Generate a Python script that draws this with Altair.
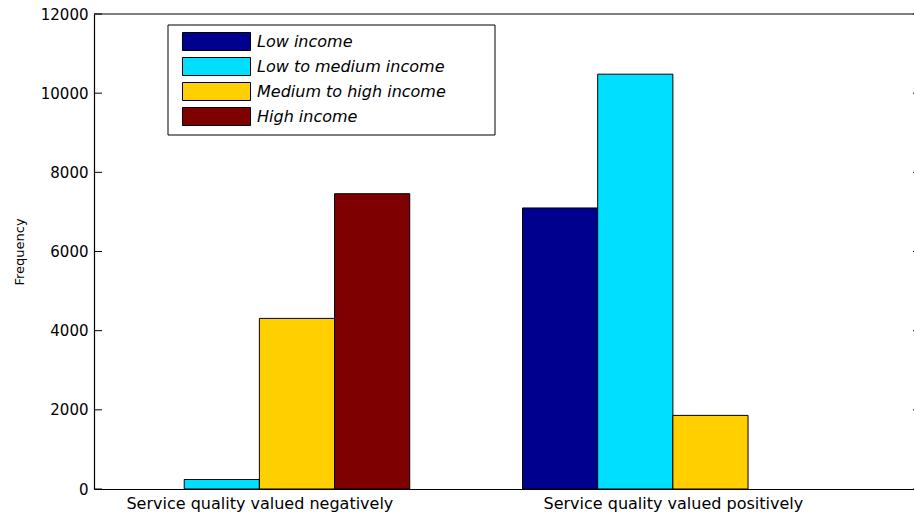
import json
import altair as alt
import pandas as pd

categories = ["Service quality valued negatively", "Service quality valued positively"]
series = ["Low income", "Low to medium income", "Medium to high income", "High income"]
low_income = [0, 7100]
low_to_medium_income = [240, 10480]
medium_to_high_income = [4310, 1860]
high_income = [7460, 0]
colors = ["#00008F", "#00DFFF", "#FFCF00", "#7F0000"]
y_ticks = [0, 2000, 4000, 6000, 8000, 10000, 12000]

values_by_series = [low_income, low_to_medium_income, medium_to_high_income, high_income]
rows = []
for s_idx, (name, vals) in enumerate(zip(series, values_by_series)):
    for g_idx, v in enumerate(vals):
        rows.append({"group": g_idx + 1, "sidx": s_idx, "series": name, "value": v})
df = pd.DataFrame(rows)

W, H = 820, 475
group_w = 4 / 5.5
bar_w = group_w / 4
x_scale = alt.Scale(domain=[0.6, 2.5832], nice=False, zero=False)
y_scale = alt.Scale(domain=[0, 12000], nice=False)
label_expr = json.dumps(categories) + "[datum.value - 1]"

frame = alt.Chart(alt.Data(values=[{"a": 1}])).mark_rect(
    fill="white", stroke="black", strokeWidth=1
).encode(x=alt.value(74), x2=alt.value(401), y=alt.value(11), y2=alt.value(121))

bars = alt.Chart(df).transform_calculate(
    x0=f"datum.group - {group_w / 2} + datum.sidx * {bar_w}",
    x1=f"datum.group - {group_w / 2} + (datum.sidx + 1) * {bar_w}",
).mark_rect(stroke="black", strokeWidth=1).encode(
    x=alt.X(
        "x0:Q",
        scale=x_scale,
        axis=alt.Axis(
            values=[1, 2], labelExpr=label_expr, title=None, ticks=False,
            grid=False, domainColor="black", domainWidth=1.2,
            labelFont="DejaVu Sans", labelFontSize=16, labelColor="black",
            labelPadding=6, labelLimit=0, labelFlush=False,
        ),
    ),
    x2="x1:Q",
    y=alt.Y(
        "value:Q",
        scale=y_scale,
        axis=alt.Axis(
            values=y_ticks, format="d", ticks=False, grid=False,
            domainColor="black", labelFlush=False,
            domainWidth=1.2, labelFont="DejaVu Sans", labelFontSize=15,
            labelColor="black", labelPadding=6, title="Frequency",
            titleFont="DejaVu Sans", titleFontSize=13, titleFontWeight="normal",
            titleColor="black", titleX=-75, titleY=H / 2, titleAngle=270,
            titleAlign="center", titleBaseline="middle",
        ),
    ),
    y2=alt.datum(0),
    color=alt.Color(
        "series:N",
        scale=alt.Scale(domain=series, range=colors),
        legend=alt.Legend(
            title=None, orient="none", legendX=113, legendY=18, padding=0,
            symbolType="M-3.78,-1H3.78V1H-3.78Z", symbolSize=324,
            symbolStrokeColor="black", symbolStrokeWidth=1, symbolOpacity=1,
            labelFont="DejaVu Sans", labelFontStyle="italic", labelFontSize=16,
            labelColor="black", labelOffset=31, rowPadding=2, labelLimit=0,
        ),
    ),
    opacity=alt.condition("datum.value > 0", alt.value(1), alt.value(0)),
)

top_line = alt.Chart(alt.Data(values=[{"a": 1}])).mark_rule(
    color="black", strokeWidth=1.2
).encode(x=alt.value(0), x2=alt.value(W), y=alt.value(0))

tick_df = pd.DataFrame({"t": y_ticks})
left_ticks = alt.Chart(tick_df).mark_rule(color="black", strokeWidth=1).encode(
    y=alt.Y("t:Q", scale=y_scale), x=alt.value(0), x2=alt.value(8)
)
right_ticks = alt.Chart(tick_df).mark_rule(color="black", strokeWidth=1).encode(
    y=alt.Y("t:Q", scale=y_scale), x=alt.value(W - 1), x2=alt.value(W)
)

chart = alt.layer(frame, bars, top_line, left_ticks, right_ticks).properties(
    width=W, height=H,
    autosize=alt.AutoSizeParams(type="none"),
    padding={"left": 94, "top": 14, "right": 0, "bottom": 28},
    background="white",
).configure_view(stroke=None)

chart.save("out.html", embed_options={"renderer": "svg", "actions": False})
